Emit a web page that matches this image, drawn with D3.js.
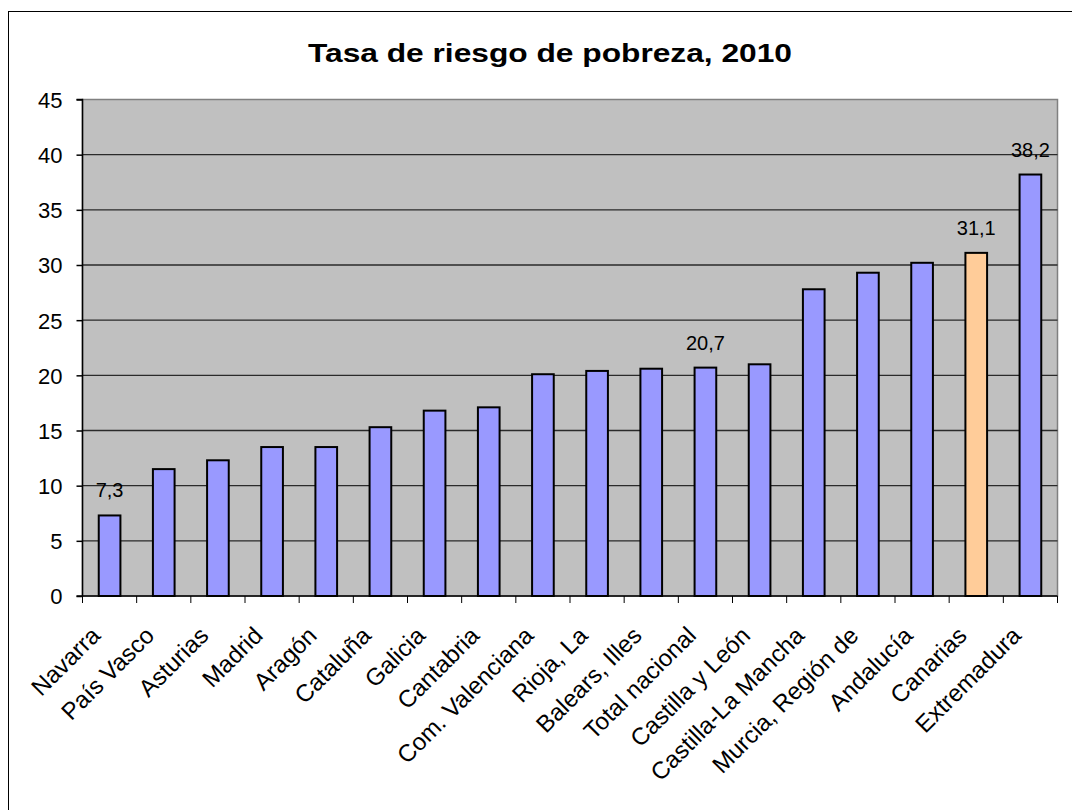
<!DOCTYPE html>
<html>
<head>
<meta charset="utf-8">
<script src="https://cdnjs.cloudflare.com/ajax/libs/d3/7.8.5/d3.min.js"></script>
<style>
	body { margin: 0; background: #fff; }
	text { font-family: Arial, "Liberation Sans", sans-serif; fill: #000; }
</style>
</head>
<body>
<svg id="chart" width="1072" height="810"></svg>
<script>
var regions = ['Navarra', 'País Vasco', 'Asturias', 'Madrid', 'Aragón', 'Cataluña', 'Galicia',
	'Cantabria', 'Com. Valenciana', 'Rioja, La', 'Balears, Illes', 'Total nacional',
	'Castilla y León', 'Castilla-La Mancha', 'Murcia, Región de', 'Andalucía', 'Canarias', 'Extremadura'];
var rates = [7.3, 11.5, 12.3, 13.5, 13.5, 15.3, 16.8, 17.1, 20.1, 20.4, 20.6, 20.7,
	21.0, 27.8, 29.3, 30.2, 31.1, 38.2];
var labelled = ['Navarra', 'Total nacional', 'Canarias', 'Extremadura'];
var highlight = 'Canarias';
var yTicks = [0, 5, 10, 15, 20, 25, 30, 35, 40, 45];

var svg = d3.select('#chart');
var plotLeft = 82.5, plotRight = 1057.5, plotTop = 99.5, plotBottom = 596;

// outer frame (right and bottom edges fall off the picture)
svg.append('rect')
	.attr('x', 8.5).attr('y', 11.5)
	.attr('width', 1100).attr('height', 900)
	.attr('fill', 'none').attr('stroke', '#000').attr('stroke-width', 1);

svg.append('text')
	.attr('x', 550).attr('y', 62)
	.attr('text-anchor', 'middle')
	.attr('font-size', '25px').attr('font-weight', 'bold')
	.attr('textLength', 484).attr('lengthAdjust', 'spacingAndGlyphs')
	.text('Tasa de riesgo de pobreza, 2010');

var x = d3.scaleBand().domain(regions).range([plotLeft, plotRight]).paddingInner(0.6).paddingOuter(0.3);
var xEdge = d3.scaleLinear().domain([0, regions.length]).range([plotLeft, plotRight]);
var y = d3.scaleLinear().domain([0, 45]).range([plotBottom, plotTop]);

svg.append('rect')
	.attr('x', plotLeft).attr('y', plotTop)
	.attr('width', plotRight - plotLeft).attr('height', plotBottom - plotTop)
	.attr('fill', '#c0c0c0').attr('stroke', '#808080').attr('stroke-width', 1.5);

svg.append('g').selectAll('line')
	.data(yTicks.filter(function(d) { return d > 0 && d < 45; }))
	.enter().append('line')
	.attr('x1', plotLeft).attr('x2', plotRight)
	.attr('y1', function(d) { return y(d); })
	.attr('y2', function(d) { return y(d); })
	.attr('stroke', '#2a2a2a').attr('stroke-width', 1.3);

// y axis
var yAxis = svg.append('g')
	.attr('transform', 'translate(' + plotLeft + ',0)')
	.call(d3.axisLeft(y).tickValues(yTicks).tickSize(6).tickPadding(14));
yAxis.selectAll('text')
	.attr('font-size', '22px')
	.attr('font-family', 'Arial, "Liberation Sans", sans-serif')
	.attr('dy', '0.36em');
yAxis.selectAll('line, path').attr('stroke', '#000').attr('stroke-width', 1.5);
yAxis.select('path').attr('d', 'M-6,' + plotTop + 'H0V' + plotBottom + 'H-6');

// bars
svg.append('g').selectAll('rect')
	.data(regions)
	.enter().append('rect')
	.attr('x', function(d) { return x(d); })
	.attr('y', function(d, i) { return y(rates[i]); })
	.attr('width', x.bandwidth())
	.attr('height', function(d, i) { return plotBottom - y(rates[i]); })
	.attr('fill', function(d) { return d === highlight ? '#ffcc99' : '#9999ff'; })
	.attr('stroke', '#000').attr('stroke-width', 2);

// x axis
svg.append('line')
	.attr('x1', plotLeft).attr('x2', plotRight)
	.attr('y1', plotBottom).attr('y2', plotBottom)
	.attr('stroke', '#000').attr('stroke-width', 1.5);
svg.append('g').selectAll('line')
	.data(d3.range(regions.length + 1))
	.enter().append('line')
	.attr('x1', function(d) { return xEdge(d); })
	.attr('x2', function(d) { return xEdge(d); })
	.attr('y1', plotBottom).attr('y2', plotBottom + 7)
	.attr('stroke', '#000').attr('stroke-width', 1);

svg.append('g').selectAll('text')
	.data(regions)
	.enter().append('text')
	.attr('transform', function(d) {
		return 'translate(' + (x(d) + x.bandwidth() / 2 - 8) + ',' + (plotBottom + 41) + ') rotate(-45)';
	})
	.attr('text-anchor', 'end')
	.attr('font-size', '24px')
	.text(function(d) { return d; });

// value labels
svg.append('g').selectAll('text')
	.data(labelled)
	.enter().append('text')
	.attr('x', function(d) { return x(d) + x.bandwidth() / 2; })
	.attr('y', function(d) { return y(rates[regions.indexOf(d)]) - 18; })
	.attr('text-anchor', 'middle')
	.attr('font-size', '20px')
	.text(function(d) { return rates[regions.indexOf(d)].toFixed(1).replace('.', ','); });
</script>
</body>
</html>
